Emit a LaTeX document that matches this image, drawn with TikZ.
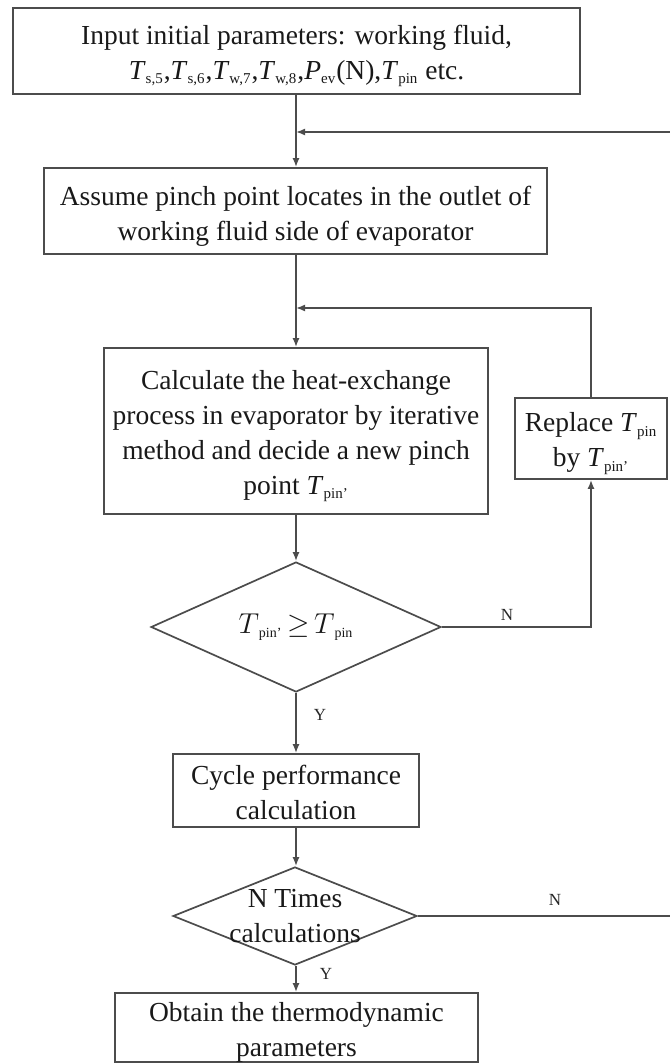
\documentclass[tikz,border=0pt]{standalone}
\usepackage{fontspec}
\setmainfont{Liberation Serif}
\usetikzlibrary{shapes.geometric,arrows.meta}

% italic symbol with a small upright subscript
\newcommand{\Tsb}[2]{\textit{#1}\textsubscript{\fontsize{7.5}{8}\selectfont #2}}
% same, with a math-italic symbol (used in the comparison)
\newcommand{\Msb}[2]{$#1$\textsubscript{\fontsize{7}{8}\selectfont #2}}

\begin{document}
\begin{tikzpicture}[x=0.5pt,y=-0.5pt,
  font=\fontsize{13.75}{17.5}\selectfont,
  linecol/.style={draw=black!70,line width=0.85pt},
  boxtext/.style={align=center,text=black!90,yshift=-2.5pt},
  procbox/.style={linecol,rectangle,inner sep=0pt},
  decision/.style={linecol,diamond,inner sep=0pt},
  arr/.style={linecol,-{Latex[length=4.5pt,width=3.5pt]}},
  yn/.style={font=\fontsize{8.5}{10}\selectfont,text=black!85}]

\useasboundingbox (0,0) rectangle (669,1064);

% process boxes
\node[procbox,minimum width=283.5pt,minimum height=43pt,
  label={[boxtext]center:Input initial parameters: working fluid,\\
   \Tsb{T}{s,5},\Tsb{T}{s,6},\Tsb{T}{w,7},\Tsb{T}{w,8},\Tsb{P}{ev}(N),\Tsb{T}{pin} etc.}]
  (b1) at (296.5,51) {};
\node[procbox,minimum width=251.5pt,minimum height=43pt,
  label={[boxtext]center:Assume pinch point locates in the outlet of\\working fluid side of evaporator}]
  (b2) at (295.5,211) {};
\node[procbox,minimum width=192pt,minimum height=83pt,
  label={[boxtext]center:Calculate the heat-exchange\\process in evaporator by iterative\\method and decide a new pinch\\point \Tsb{T}{pin'}}]
  (b3) at (296,431) {};
\node[procbox,minimum width=76pt,minimum height=40.5pt,
  label={[boxtext]center:Replace \Tsb{T}{pin}\\by \Tsb{T}{pin'}}]
  (rep) at (591,438.5) {};
\node[decision,minimum width=145pt,minimum height=65pt,
  label={[text=black!90]center:\Msb{T}{pin'}\,$\geq$\,\Msb{T}{pin}}]
  (d1) at (296,627) {};
\node[procbox,minimum width=123pt,minimum height=36.5pt,
  label={[boxtext,yshift=1.5pt]center:Cycle performance\\calculation}]
  (b4) at (296,790.5) {};
\node[decision,minimum width=122pt,minimum height=49pt,
  label={[align=center,text=black!90]center:N Times\\calculations}]
  (d2) at (295,916) {};
\node[procbox,minimum width=181.5pt,minimum height=34.5pt,
  label={[boxtext]center:Obtain the thermodynamic\\parameters}]
  (b5) at (296.5,1027.5) {};

% junctions on the main column and the outer return path
\coordinate (m1) at (296,132);
\coordinate (m2) at (296,308);
\coordinate (far) at (700,916);

% main flow
\draw[arr] (b1.south -| m1) -- (b2.north -| m1);
\draw[arr] (b2.south -| m2) -- (b3.north -| m2);
\draw[arr] (b3.south) -- (d1.north);
\draw[arr] (d1.south) -- (b4.north);
\draw[arr] (b4.south) -- (d2.north -| b4.south);
\draw[arr] (d2.south -| b4.south) -- (b5.north -| b4.south);

% inner loop: replace the pinch temperature
\draw[arr] (d1.east) -| (rep.south);
\draw[arr] (rep.north) |- (m2);

% outer loop: repeat N times
\draw[arr] (d2.east) -- (far) |- (m1);

% branch labels
\node[yn] (n1) at (507,615) {N};
\node[yn] (y1) at (320,715) {Y};
\node[yn] (n2) at (555,900) {N};
\node[yn] (y2) at (326,974) {Y};
\end{tikzpicture}
\end{document}
